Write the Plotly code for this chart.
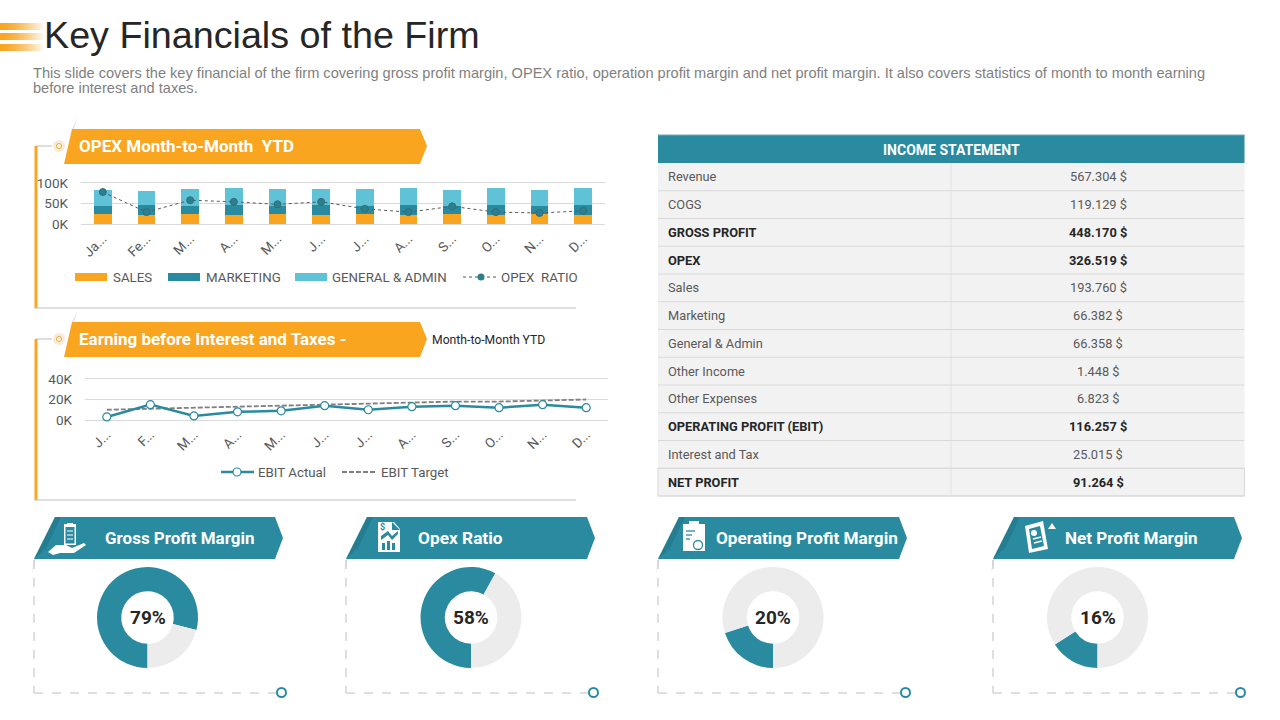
import plotly.graph_objects as go

months = ["Jan","Feb","Mar","Apr","May","Jun","Jul","Aug","Sep","Oct","Nov","Dec"]
labels_top = ["Ja...","Fe...","M...","A...","M...","J...","J...","A...","S...","O...","N...","D..."]
labels_low = ["J...","F...","M...","A...","M...","J...","J...","A...","S...","O...","N...","D..."]
sales = [25,22,25,22,25,22,25,22,25,22,25,22]
marketing = [20,25,19,25,20,25,20,25,20,25,20,25]
general_admin = [39,34,42,42,41,39,41,42,39,42,39,42]
opex_ratio = [78,29,58,54,48,54,37,29,43,29,27,32]
ebit_actual = [3,15,4,8,9,14,10,13,14,12,15,12]
ebit_target = [10,11,12,12.5,14,15,16,16.5,18,18,19,20]
top_ticks = [0,50,100]
top_ticktext = ["0K","50K","100K"]
low_ticks = [0,20,40]
low_ticktext = ["0K","20K","40K"]
table_labels = ["Revenue","COGS","GROSS PROFIT","OPEX","Sales","Marketing","General & Admin","Other Income","Other Expenses","OPERATING PROFIT (EBIT)","Interest and Tax","NET PROFIT"]
table_values = ["567.304 $","119.129 $","448.170 $","326.519 $","193.760 $","66.382 $","66.358 $","1.448 $","6.823 $","116.257 $","25.015 $","91.264 $"]
bold_rows = ["GROSS PROFIT","OPEX","OPERATING PROFIT (EBIT)","NET PROFIT"]
donut_names = ["Gross Profit Margin","Opex Ratio","Operating Profit Margin","Net Profit Margin"]
donut_values = [79,58,20,16]

ORANGE="#F9A51F"; TEAL="#2A8A9F"; LIGHT="#5FC2D6"; DARK="#262626"; GRID="#D9D9D9"; TICK="#595959"
NARROW="Roboto"; SANS="Liberation Sans"

def X(p): return p/1280
def Y(p): return 1-p/720
shapes=[]; notes=[]
def poly(pts,fill,opacity=1,layer="below"):
    d="M"+" L".join(f"{X(a):.5f},{Y(b):.5f}" for a,b in pts)+" Z"
    shapes.append(dict(type="path",xref="paper",yref="paper",path=d,fillcolor=fill,line=dict(width=0),opacity=opacity,layer=layer))
def rect(x0,y0,x1,y1,fill,opacity=1,layer="below"):
    shapes.append(dict(type="rect",xref="paper",yref="paper",x0=X(x0),x1=X(x1),y0=Y(y0),y1=Y(y1),fillcolor=fill,line=dict(width=0),opacity=opacity,layer=layer))
def line(x0,y0,x1,y1,color,width=1,dash="solid",layer="below"):
    shapes.append(dict(type="line",xref="paper",yref="paper",x0=X(x0),x1=X(x1),y0=Y(y0),y1=Y(y1),line=dict(color=color,width=width,dash=dash),layer=layer))
def circ(cx,cy,r,fill,edge=None,width=0,layer="above"):
    shapes.append(dict(type="circle",xref="paper",yref="paper",x0=X(cx-r),x1=X(cx+r),y0=Y(cy-r),y1=Y(cy+r),fillcolor=fill,line=dict(color=edge or fill,width=width),layer=layer))
def text(x,y,s,size,color,family=NARROW,anchor="left"):
    notes.append(dict(xref="paper",yref="paper",x=X(x),y=Y(y),text=s,showarrow=False,xanchor=anchor,yanchor="middle",borderpad=0,borderwidth=0,font=dict(size=size,color=color,family=family)))

# title stripes
for y0 in (23,33,44):
    for i in range(22):
        rect(i*2,y0,i*2+2,y0+7,ORANGE,opacity=1-(i/22)**1.5)
text(44,35,"Key Financials of the Firm",37.7,DARK,family=SANS)
text(33,73,"This slide covers the key financial of the firm covering gross profit margin, OPEX ratio, operation profit margin and net profit margin. It also covers statistics of month to month earning",14.6,"#7F7F7F",family=SANS)
text(33,88,"before interest and taxes.",14.6,"#7F7F7F",family=SANS)

# section banners
for top,label,bottom,sz in ((129,"OPEX Month-to-Month  YTD",308,17),(322,"Earning before Interest and Taxes -",500,17)):
    poly([(72,top),(78,top-13),(74,top)],"#E6E6E6")
    poly([(64,top+35),(72,top),(420,top),(427,top+17),(420,top+35)],ORANGE)
    line(36,top+17,52,top+17,"#BFBFBF",1)
    line(36,top+17,36,bottom,ORANGE,3)
    line(34,bottom,576,bottom,"#BFBFBF",1)
    circ(59,top+17,6,"#F8EBD6")
    circ(59,top+17,2.5,"#FFFFFF",ORANGE,1)
    text(79,top+17,"<b>"+label+"</b>",sz,"#FFFFFF")
text(432,340,"Month-to-Month YTD",12.2,DARK)

# top legend
rect(75,273,107,281,ORANGE); text(113,277,"SALES",13.3,TICK)
rect(168,273,200,281,TEAL); text(206,277,"MARKETING",13.3,TICK)
rect(295,273,327,281,LIGHT); text(332,277,"GENERAL & ADMIN",13.3,TICK)
line(463,277,498,277,TICK,1,"dot"); circ(481,277,3.5,"#2E7F8E"); text(501,277,"OPEX  RATIO",13.3,TICK)
# lower legend
line(221,472,254,472,TEAL,2.5); circ(237,472,4,"#FFFFFF",TEAL,1.2); text(258,472,"EBIT Actual",13.3,TICK)
line(342,472,377,472,"#7F7F7F",1.8,"5px,2px"); text(381,472,"EBIT Target",13.3,TICK)

# KPI banners
lefts=[34,346,658,993]
for left,name in zip(lefts,donut_names):
    poly([(left,559),(left+21,517),(left+241,517),(left+249,538),(left+241,559)],TEAL)
    poly([(left,559),(left+21,517),(left+27,517),(left+12,548)],"#1F7385",opacity=.55)
    poly([(left,559),(left-2,573),(left+2,559)],"#E6E6E6")
    line(left,560,left,693,"#BFBFBF",1,"dash")
    line(left,693,left+243,693,"#BFBFBF",1,"dash")
    circ(left+247.5,692.5,4.5,"#FFFFFF",TEAL,2)
text(105,538,"<b>Gross Profit Margin</b>",17,"#FFFFFF")
text(418,538,"<b>Opex Ratio</b>",17.3,"#FFFFFF")
text(716,538,"<b>Operating Profit Margin</b>",17.2,"#FFFFFF")
text(1065,538,"<b>Net Profit Margin</b>",17.1,"#FFFFFF")

# icons
W="#FFFFFF"
rect(64,524,76,545,W); rect(65.5,527,74.5,543.5,TEAL); rect(67,523,73,527,W)
for y in (531,535,539): line(67,y,73,y,W,1)
poly([(48,552),(56,545),(66,545),(72,548),(84,543),(86,545),(74,553),(60,553),(53,555)],W)
poly([(378,522),(394,522),(400,529),(400,552),(378,552)],W)
poly([(392,522),(392,530),(400,530)],TEAL)
poly([(381,536),(388,531),(392,536),(398,531),(398,534),(392,540),(388,535),(381,540)],TEAL)
rect(382,543,385,550,TEAL); rect(387,541,390,550,TEAL); rect(392,543,395,550,TEAL)
text(380,527,"<b>$</b>",9,TEAL)
rect(683,524,705,551,W); rect(689,521,699,526,W)
for y,x1 in ((531,695),(535,692),(539,690)): line(686,y,x1,y,TEAL,1.3)
circ(698,545,4.5,W,TEAL,1.3)
poly([(1025,526),(1043,521),(1048,549),(1029,553)],W)
poly([(1029,529),(1040,526),(1044,546),(1032,549)],TEAL)
circ(1034,533,3,W)
for a,b in ((1033,539),(1034,543)): line(a,b,a+8,b-2,W,1.3)
poly([(1048,529),(1052,523),(1056,529)],W)

# income statement table
T_L,T_M,T_R=658,951,1244.5
T_TOP,T_BODY,ROW=135,163,27.75
rect(T_L,T_TOP,T_R,T_BODY,TEAL)
line(T_L,T_TOP,T_R,T_TOP,"#6FA9B5",1)
text((T_L+T_R)/2,149.5,"<b>INCOME STATEMENT</b>",14,W,anchor="center")
rect(T_L,T_BODY,T_R,T_BODY+ROW*len(table_labels),"#F2F2F2")
line(T_M,T_BODY,T_M,T_BODY+ROW*len(table_labels),"#E3E3E3",1)
for i,(lab,val) in enumerate(zip(table_labels,table_values)):
    yc=T_BODY+ROW*(i+0.5)
    line(T_L,T_BODY+ROW*(i+1),T_R,T_BODY+ROW*(i+1),"#D9D9D9",1.2)
    if lab in bold_rows:
        text(668,yc,f"<b>{lab}</b>",12.8,DARK); text(1098,yc,f"<b>{val}</b>",12.8,DARK,anchor="center")
    else:
        text(668,yc,lab,12.8,TICK); text(1098,yc,val,12.8,TICK,anchor="center")
# outline of the last row
i=len(table_labels)-1
shapes.append(dict(type="rect",xref="paper",yref="paper",x0=X(T_L),x1=X(T_R),y0=Y(T_BODY+ROW*i),y1=Y(T_BODY+ROW*(i+1)),line=dict(color="#D9D9D9",width=1),fillcolor="rgba(0,0,0,0)",layer="below"))

fig=go.Figure()
bar_common=dict(xaxis="x",yaxis="y",width=0.4,showlegend=False,marker_line_width=0)
fig.add_trace(go.Bar(x=months,y=sales,name="SALES",marker_color=ORANGE,**bar_common))
fig.add_trace(go.Bar(x=months,y=marketing,name="MARKETING",marker_color=TEAL,**bar_common))
fig.add_trace(go.Bar(x=months,y=general_admin,name="GENERAL & ADMIN",marker_color=LIGHT,**bar_common))
fig.add_trace(go.Scatter(x=months,y=opex_ratio,name="OPEX RATIO",mode="lines+markers",xaxis="x",yaxis="y",showlegend=False,
    line=dict(color=TICK,width=1,dash="dot"),marker=dict(size=7,color="#2E7F8E",line=dict(color="#2E6F7C",width=1))))
fig.add_trace(go.Scatter(x=months,y=ebit_target,name="EBIT Target",mode="lines",xaxis="x2",yaxis="y2",showlegend=False,
    line=dict(color="#7F7F7F",width=1.8,dash="5px,2px")))
fig.add_trace(go.Scatter(x=months,y=ebit_actual,name="EBIT Actual",mode="lines+markers",xaxis="x2",yaxis="y2",showlegend=False,
    line=dict(color=TEAL,width=2.5),marker=dict(size=8,color="#FFFFFF",line=dict(color=TEAL,width=1.2))))

centers=[147.5,471,773,1097.5]
for cx,name,v in zip(centers,donut_names,donut_values):
    fig.add_trace(go.Pie(values=[v,100-v],labels=[name,"Rest"],hole=0.52,rotation=180,direction="clockwise",sort=False,
        marker=dict(colors=[TEAL,"#ECECEC"],line=dict(width=0)),textinfo="none",hoverinfo="label+percent",showlegend=False,
        domain=dict(x=[X(cx-50.5),X(cx+50.5)],y=[Y(668),Y(567)])))
    text(cx,617,f"<b>{v}%</b>",19,DARK,anchor="center")

axis_font=dict(family=NARROW,size=13.5,color=TICK)
def xa(dom,anchor,ticktext):
    return dict(domain=dom,anchor=anchor,type="category",categoryorder="array",categoryarray=months,tickmode="array",tickvals=months,ticktext=ticktext,
                range=[-0.5,11.5],tickangle=-45,showgrid=False,zeroline=False,showline=False,ticks="",tickfont=axis_font,fixedrange=True)
def ya(dom,anchor,rng,tv,tt,standoff):
    return dict(domain=dom,anchor=anchor,range=rng,tickmode="array",tickvals=tv,ticktext=tt,showgrid=True,gridcolor=GRID,gridwidth=1,zeroline=False,
                showline=False,ticks="",tickfont=axis_font,ticklabelstandoff=standoff,fixedrange=True)
fig.update_layout(width=1280,height=720,margin=dict(l=0,r=0,t=0,b=0,autoexpand=False),paper_bgcolor="#FFFFFF",plot_bgcolor="#FFFFFF",autosize=False,
    barmode="stack",shapes=shapes,annotations=notes,showlegend=False,
    xaxis=xa([X(81),X(605)],"y",labels_top),
    yaxis=ya([Y(227.3),Y(179.7)],"x",[-8,108],top_ticks,top_ticktext,12),
    xaxis2=xa([X(85),X(608)],"y2",labels_low),
    yaxis2=ya([Y(423.1),Y(375.9)],"x2",[-3,43],low_ticks,low_ticktext,12))
fig.write_html("out.html",config=dict(displayModeBar=False),post_script="document.body.style.margin='0';document.body.style.overflow='hidden';")
